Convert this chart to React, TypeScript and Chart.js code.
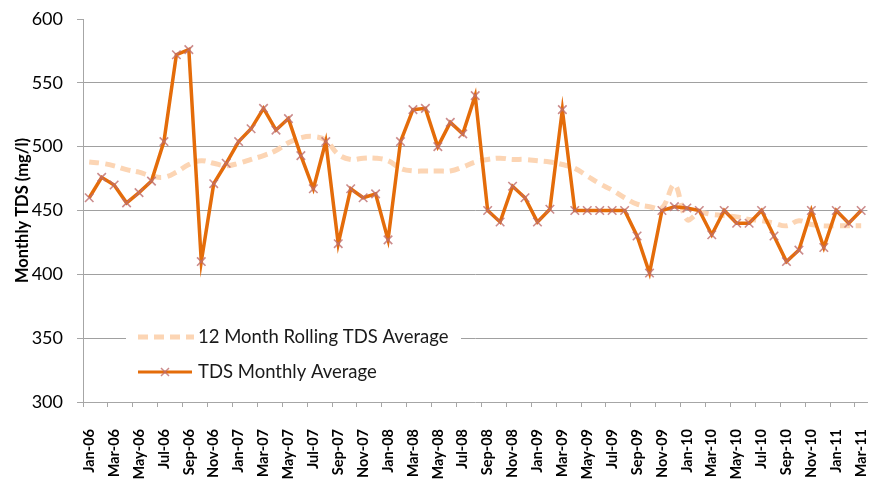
import React, { useEffect, useRef } from "react";
import { Chart, registerables } from "chart.js";

Chart.register(...registerables);

const months = [
  "Jan-06", "Feb-06", "Mar-06", "Apr-06", "May-06", "Jun-06", "Jul-06", "Aug-06", "Sep-06", "Oct-06", "Nov-06", "Dec-06",
  "Jan-07", "Feb-07", "Mar-07", "Apr-07", "May-07", "Jun-07", "Jul-07", "Aug-07", "Sep-07", "Oct-07", "Nov-07", "Dec-07",
  "Jan-08", "Feb-08", "Mar-08", "Apr-08", "May-08", "Jun-08", "Jul-08", "Aug-08", "Sep-08", "Oct-08", "Nov-08", "Dec-08",
  "Jan-09", "Feb-09", "Mar-09", "Apr-09", "May-09", "Jun-09", "Jul-09", "Aug-09", "Sep-09", "Oct-09", "Nov-09", "Dec-09",
  "Jan-10", "Feb-10", "Mar-10", "Apr-10", "May-10", "Jun-10", "Jul-10", "Aug-10", "Sep-10", "Oct-10", "Nov-10", "Dec-10",
  "Jan-11", "Feb-11", "Mar-11",
];

const tdsMonthly = [
  460, 476, 470, 456, 464, 473, 504, 572, 576, 410, 471, 487,
  504, 514, 530, 513, 522, 493, 467, 504, 424, 467, 460, 463,
  427, 504, 529, 530, 500, 519, 510, 540, 450, 441, 469, 460,
  441, 451, 529, 450, 450, 450, 450, 450, 430, 401, 450, 453,
  452, 450, 431, 450, 440, 440, 450, 430, 410, 419, 450, 421,
  450, 440, 450,
];

const rollingAvg = [
  488, 487, 485, 482, 480, 477, 476, 480, 486, 489, 487, 485,
  487, 490, 493, 497, 503, 507, 508, 505, 494, 490, 491, 491,
  489, 483, 481, 481, 481, 481, 484, 488, 490, 491, 490, 490,
  489, 488, 486, 483, 477, 471, 466, 460, 455, 453, 452, 470,
  443, 448, 447, 446, 445, 443, 442, 440, 438, 442, 439, 438,
  438, 438, 438,
];

const seriesNames = ["12 Month Rolling TDS Average", "TDS Monthly Average"];
const yAxisTitle = "Monthly TDS (mg/l)";

const ORANGE = "#E46C0A";
const PEACH = "#FCD5B4";
const MARKER = "rgba(190,110,110,0.8)";
const AXIS = "#A6A6A6";

export default function App() {
  const ref = useRef<HTMLCanvasElement>(null);

  useEffect(() => {
    const legendPlugin = {
      id: "insideLegend",
      afterDraw(chart: any) {
        const ctx = chart.ctx as CanvasRenderingContext2D;
        ctx.save();
        ctx.fillStyle = "#ffffff";
        ctx.fillRect(126, 322, 335, 66);

        ctx.strokeStyle = PEACH;
        ctx.lineWidth = 5;
        ctx.setLineDash([10, 6]);
        ctx.beginPath();
        ctx.moveTo(138, 337);
        ctx.lineTo(194, 337);
        ctx.stroke();
        ctx.setLineDash([]);

        ctx.strokeStyle = ORANGE;
        ctx.lineWidth = 3;
        ctx.beginPath();
        ctx.moveTo(138, 372);
        ctx.lineTo(192, 372);
        ctx.stroke();
        ctx.strokeStyle = MARKER;
        ctx.lineWidth = 1.5;
        ctx.beginPath();
        ctx.moveTo(161, 368);
        ctx.lineTo(169, 376);
        ctx.moveTo(169, 368);
        ctx.lineTo(161, 376);
        ctx.stroke();

        ctx.fillStyle = "#1a1a1a";
        ctx.font = "18.5px Lato";
        ctx.textBaseline = "middle";
        ctx.textAlign = "left";
        ctx.fillText(seriesNames[0], 198, 337);
        ctx.fillText(seriesNames[1], 198, 372);
        ctx.restore();
      },
    };

    const zeroPad = (s: any) => {
      s.paddingLeft = 0;
      s.paddingRight = 0;
      s.paddingTop = 0;
      s.paddingBottom = 0;
    };

    const chart = new Chart(ref.current!, {
      type: "line",
      data: {
        labels: months,
        datasets: [
          {
            label: seriesNames[1],
            data: tdsMonthly,
            borderColor: ORANGE,
            borderWidth: 3.5,
            tension: 0,
            pointStyle: "crossRot",
            pointRadius: 6,
            pointBorderColor: MARKER,
            pointBorderWidth: 1.6,
            pointBackgroundColor: "transparent",
            order: 0,
          },
          {
            label: seriesNames[0],
            data: rollingAvg,
            borderColor: PEACH,
            borderWidth: 5,
            borderDash: [10, 6],
            borderCapStyle: "butt",
            tension: 0.4,
            pointRadius: 0,
            order: 1,
          },
        ],
      },
      options: {
        responsive: false,
        animation: false,
        layout: { padding: { left: 13, top: 19, right: 3, bottom: 0 } },
        plugins: { legend: { display: false }, tooltip: { enabled: false } },
        scales: {
          x: {
            type: "category",
            offset: true,
            grid: {
              offset: true,
              drawOnChartArea: false,
              tickLength: 5,
              tickColor: (c: any) => (c.index % 2 === 0 ? AXIS : "transparent"),
            },
            border: { color: AXIS },
            ticks: {
              autoSkip: false,
              maxRotation: 90,
              minRotation: 90,
              padding: 22,
              color: "#000",
              font: { family: "Lato", size: 14.5, weight: "bold" },
              callback: (_v: any, i: number) => (i % 2 === 0 ? months[i] : ""),
            },
            afterFit: (s: any) => {
              s.height = 81;
              zeroPad(s);
            },
          },
          y: {
            min: 300,
            max: 600,
            ticks: {
              stepSize: 50,
              padding: 14,
              color: "#000",
              font: { family: "Lato", size: 18 },
            },
            grid: {
              color: (c: any) =>
                c.tick && (c.tick.value === 300 || c.tick.value === 600) ? "transparent" : "#A0A0A0",
              tickLength: 6,
              tickColor: AXIS,
            },
            border: { color: AXIS },
            title: {
              display: true,
              text: yAxisTitle,
              color: "#000",
              font: { family: "Lato", size: 16.5, weight: "bold" },
              padding: 0,
            },
            afterFit: (s: any) => {
              s.width = 70;
              zeroPad(s);
            },
          },
        },
      },
      plugins: [legendPlugin],
    } as any);
    return () => chart.destroy();
  }, []);

  return (
    <div style={{ position: "fixed", left: 0, top: 0, width: 875, height: 483, background: "#fff" }}>
      <canvas ref={ref} width={875} height={483} style={{ display: "block" }} />
    </div>
  );
}
